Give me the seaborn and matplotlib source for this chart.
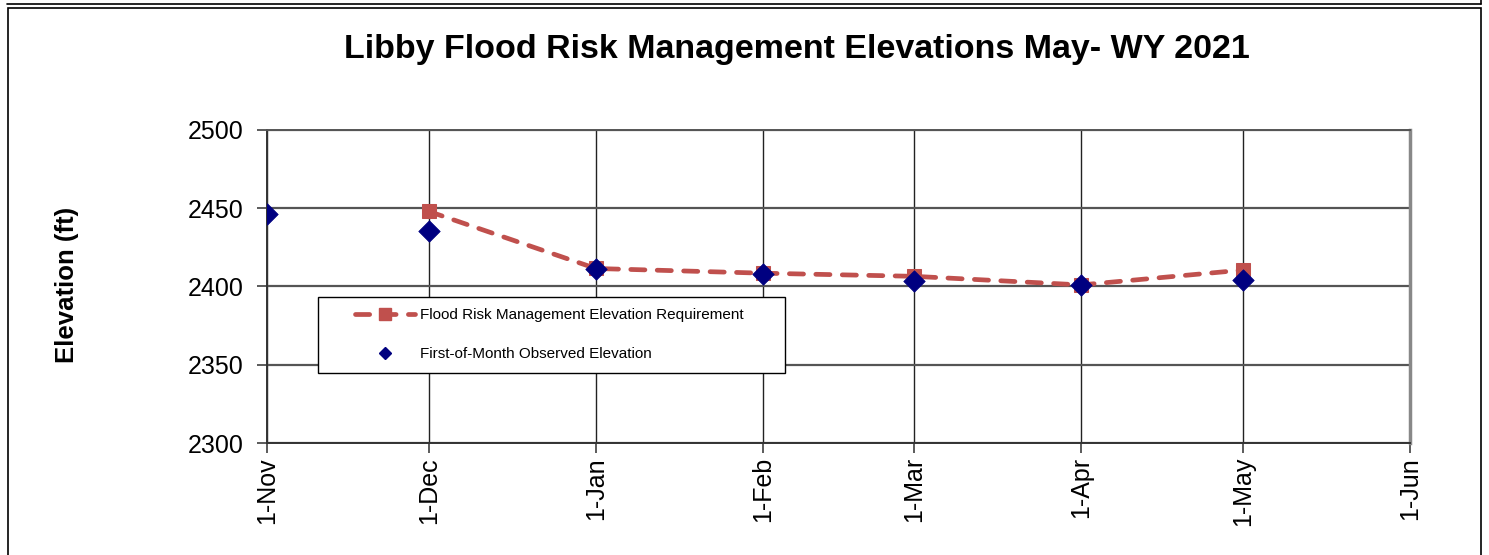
import numpy as np
import pandas as pd
import seaborn as sns
import matplotlib.pyplot as plt
from matplotlib.patches import Rectangle
from matplotlib.lines import Line2D
from matplotlib.legend_handler import HandlerLine2D

# data
obs_dates = ["2020-11-01", "2020-12-01", "2021-01-01", "2021-02-01",
             "2021-03-01", "2021-04-01", "2021-05-01"]
obs_elev = [2446, 2435.5, 2411, 2408, 2403.5, 2401, 2404]

frm_dates = ["2020-12-01", "2021-01-01", "2021-02-01", "2021-03-01",
             "2021-04-01", "2021-05-01"]
frm_elev = [2448, 2411.5, 2408.5, 2406.5, 2401, 2410.5]

tick_dates = ["2020-11-01", "2020-12-01", "2021-01-01", "2021-02-01",
              "2021-03-01", "2021-04-01", "2021-05-01", "2021-06-01"]
tick_labels = ["1-Nov", "1-Dec", "1-Jan", "1-Feb", "1-Mar", "1-Apr", "1-May", "1-Jun"]

obs = pd.DataFrame({"date": pd.to_datetime(obs_dates), "elev": obs_elev})
frm = pd.DataFrame({"date": pd.to_datetime(frm_dates), "elev": frm_elev})

sns.set_style("white")
plt.rcParams['font.family'] = ['Liberation Sans', 'DejaVu Sans']
plt.rcParams['text.color'] = 'black'
plt.rcParams['axes.labelcolor'] = 'black'
plt.rcParams['xtick.color'] = 'black'
plt.rcParams['ytick.color'] = 'black'

fig = plt.figure(figsize=(14.89, 5.55), dpi=100)
ax = fig.add_axes([0.1793, 0.2018, 0.7676, 0.564])

red = "#C0504D"
navy = "#000080"
dash = (0, (3.0, 2.6))

sns.lineplot(data=frm, x="date", y="elev", ax=ax, color=red, linewidth=3.4,
             linestyle=dash, dash_capstyle="round", marker="s", markersize=10,
             markeredgecolor=red, zorder=3)
sns.scatterplot(data=obs, x="date", y="elev", ax=ax, color=navy, marker="D",
                s=120, edgecolor=navy, linewidth=0.5, zorder=4)

ax.set_xlim(pd.Timestamp("2020-11-01"), pd.Timestamp("2021-06-01"))
ax.set_ylim(2300, 2500)
ax.set_xticks(pd.to_datetime(tick_dates))
ax.set_xticklabels(tick_labels, rotation=90, fontsize=18)
ax.set_yticks([2300, 2350, 2400, 2450, 2500])
ax.tick_params(axis="y", labelsize=18, length=7, width=1.2, color="#404040",
               direction="out", left=True, pad=10)
ax.tick_params(axis="x", length=7, width=1.2, color="#404040",
               direction="out", bottom=True, pad=3)

ax.grid(True, axis="y", color="#555555", linewidth=1.6)
ax.grid(True, axis="x", color="#222222", linewidth=1.0)
for s in ax.spines.values():
    s.set_color("#555555")
    s.set_linewidth(1.4)
ax.spines["left"].set_color("#333333")
ax.spines["bottom"].set_color("#333333")
ax.spines["right"].set_linewidth(2.5)
ax.spines["right"].set_color("#888888")

ax.set_xlabel("")
ax.set_ylabel("Elevation (ft)", fontsize=18.5, fontweight="bold", va="center")
ax.yaxis.set_label_coords((67 - 267) / 1143, 0.505)

fig.text(0.535, 0.91, "Libby Flood Risk Management Elevations May- WY 2021",
         ha="center", va="center", fontsize=24.5, fontweight="bold")

handles = [
    Line2D([], [], color=red, linewidth=3.4, linestyle=dash,
           dash_capstyle="round", marker="s", markersize=9,
           markeredgecolor=red),
    Line2D([], [], color=navy, marker="D", linestyle="none", markersize=6),
]
leg = ax.legend(handles, ["Flood Risk Management Elevation Requirement",
                          "First-of-Month Observed Elevation"],
                loc="lower left", bbox_to_anchor=(0.0446, 0.224, 0.409, 0.243),
                mode="expand", borderaxespad=0, fontsize=11, frameon=True,
                fancybox=False, edgecolor="black", framealpha=1,
                borderpad=0.75, labelspacing=1.65, handlelength=5.6,
                handletextpad=0.3,
                handler_map={Line2D: HandlerLine2D(xpad=1.7)})
leg.get_frame().set_linewidth(1.0)

# outer chart frame
W, H = 1489, 555
fig.add_artist(Line2D([7 / W, 1481 / W], [1 - 4 / H, 1 - 4 / H], color="black",
                      linewidth=1.2, transform=fig.transFigure))
fig.add_artist(Line2D([1481 / W, 1481 / W], [1, 1 - 4 / H], color="black",
                      linewidth=1.2, transform=fig.transFigure))
fig.add_artist(Rectangle((8 / W, -0.05), 1473 / W, 1.05 - 8 / H, fill=False,
                         edgecolor="black", linewidth=1.2,
                         transform=fig.transFigure))

fig.savefig("out.png", dpi=100)
